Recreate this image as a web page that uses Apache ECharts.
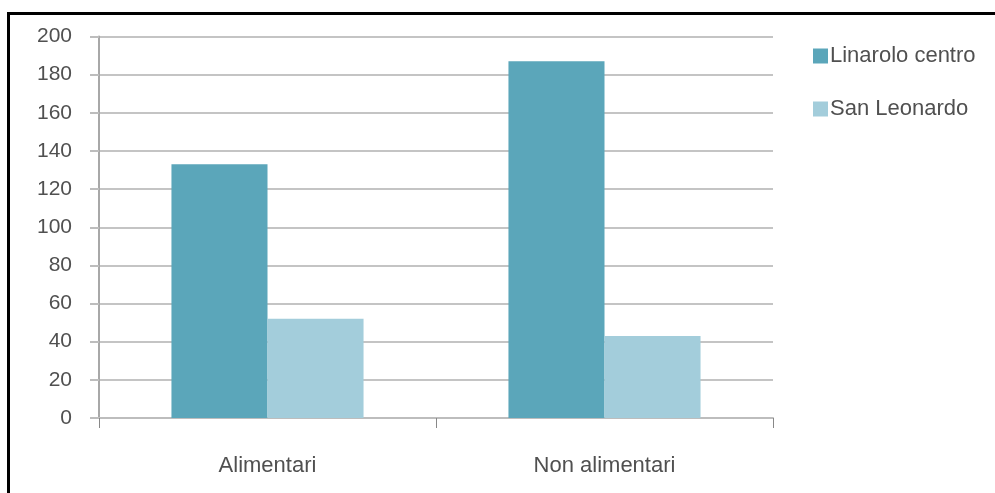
<!DOCTYPE html>
<html>
<head>
<meta charset="utf-8">
<script src="https://cdn.jsdelivr.net/npm/echarts@6/dist/echarts.min.js"></script>
<style>
  html, body { margin: 0; padding: 0; background: #fff; }
  #chart { width: 995px; height: 493px; }
</style>
</head>
<body>
<div id="chart"></div>
<script>
// dati del grafico
var categories = ['Alimentari', 'Non alimentari'];
var seriesNames = ['Linarolo centro', 'San Leonardo'];
var linarolo = [133, 187];
var sanLeonardo = [52, 43];
var yTicks = { min: 0, max: 200, step: 20 };

(function () {
  var chart = echarts.init(document.getElementById('chart'));
  var font = '"Liberation Sans", Arial, sans-serif';
  var option = {
    animation: false,
    color: ['#5ba6ba', '#a3cddb'],
    // cornice nera in alto e a sinistra
    graphic: [{
      type: 'rect',
      shape: { x: 8.5, y: 13.5, width: 1200, height: 700 },
      style: { fill: 'none', stroke: '#000', lineWidth: 3 }
    }],
    grid: {
      left: 99,
      right: 222,
      top: 36.5,
      bottom: 75,
      containLabel: false
    },
    legend: {
      orient: 'vertical',
      left: 808,
      top: 40,
      itemWidth: 15,
      itemHeight: 15,
      itemGap: 31,
      icon: 'rect',
      textStyle: { color: '#505050', fontSize: 22, fontFamily: font, padding: [0, 0, 0, -3] },
      data: seriesNames
    },
    xAxis: {
      type: 'category',
      data: categories,
      axisLine: { lineStyle: { color: '#bdbdbd', width: 2 } },
      axisTick: { show: true, length: 10, lineStyle: { color: '#888', width: 1 } },
      axisLabel: { color: '#505050', fontSize: 22, fontFamily: font, margin: 37 }
    },
    yAxis: {
      type: 'value',
      min: yTicks.min,
      max: yTicks.max,
      interval: yTicks.step,
      axisLine: { show: true, lineStyle: { color: '#a8a8a8', width: 2 } },
      axisTick: { show: true, length: 9, lineStyle: { color: '#bdbdbd', width: 2 } },
      axisLabel: { color: '#505050', fontSize: 21, fontFamily: font, margin: 27 },
      splitLine: { lineStyle: { color: '#c4c4c4', width: 2 } }
    },
    series: [{
      name: seriesNames[0],
      type: 'bar',
      barGap: 0,
      barCategoryGap: '43%',
      data: linarolo
    }, {
      name: seriesNames[1],
      type: 'bar',
      barGap: 0,
      barCategoryGap: '43%',
      data: sanLeonardo
    }]
  };
  chart.setOption(option);
})();
</script>
</body>
</html>
